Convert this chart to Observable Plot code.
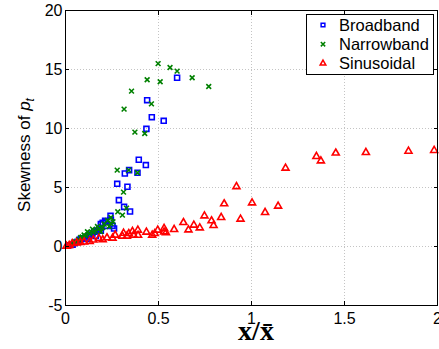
<!DOCTYPE html>
<html><head><meta charset="utf-8">
<script src="https://cdn.jsdelivr.net/npm/d3@7"></script>
<script src="https://cdn.jsdelivr.net/npm/@observablehq/plot@0.6"></script>
<style>body{margin:0;background:#fff} svg{display:block}</style>
</head><body><div id="chart"></div>
<script>
const seriesNames = ["Broadband", "Narrowband", "Sinusoidal"];
const seriesColors = ["#0000ff", "#008000", "#ff0000"];
const seriesSymbols = ["square", "times", "triangle"];

const broadbandX = [0.02,0.038,0.05,0.065,0.075,0.082,0.095,0.109,0.118,0.125,0.136,0.145,0.154,0.163,0.17,0.181,0.19,0.19,0.2,0.213,0.22,0.217,0.242,0.244,0.253,0.261,
  0.287,0.315,0.347,0.278,0.333,0.319,0.342,0.387,0.394,0.432,0.435,0.464,0.528,0.439,0.600];
const broadbandY = [0.1,0.15,0.3,0.4,0.55,0.63,0.7,0.76,0.63,0.9,0.97,1.1,1.25,0.9,1.35,1.47,1.33,1.9,2.0,2.18,1.75,2.09,2.6,2.26,1.75,1.53,
  3.93,3.36,2.97,5.31,5.06,6.19,6.47,6.25,7.35,6.9,9.97,10.96,10.65,12.4,14.3];

const narrowbandX = [0.03,0.045,0.055,0.07,0.082,0.09,0.1,0.11,0.118,0.13,0.145,0.15,0.16,0.172,0.18,0.19,0.2,0.208,0.226,0.235,0.244,0.244,0.255,
  0.281,0.306,0.328,0.312,0.278,0.340,0.387,0.373,0.426,0.315,0.462,0.355,0.439,0.509,0.498,0.562,0.600,0.681,0.770];
const narrowbandY = [0.2,0.3,0.4,0.6,0.76,0.8,0.97,0.9,1.25,1.1,1.47,1.2,1.3,1.69,1.5,1.25,1.6,1.9,2.2,1.7,1.95,2.46,2.1,
  2.94,2.66,3.25,4.61,6.47,6.47,6.25,9.69,9.58,11.64,12.09,13.17,14.13,13.96,15.5,15.17,14.86,14.3,13.56];

const sinusoidalX = [0.005,0.02,0.036,0.06,0.08,0.1,0.13,0.15,0.18,0.2,0.223,0.253,0.267,0.306,0.312,0.33,0.34,0.36,0.366,0.389,0.39,0.435,0.466,0.480,0.496,0.53,0.53,0.54,0.584,0.634,0.661,0.690,0.722,0.747,0.785,0.796,0.837,0.853,0.919,0.941,1.003,1.073,1.143,1.183,1.349,1.373,1.453,1.615,1.844,1.982];
const sinusoidalY = [0.03,0.1,0.25,0.3,0.35,0.38,0.43,0.55,0.68,0.57,0.74,0.71,0.97,0.88,1.13,0.88,1.1,1.27,0.97,1.39,0.95,1.22,0.97,1.10,1.39,1.53,1.24,1.18,1.44,2.03,1.41,1.81,1.58,2.6,2.18,1.78,2.46,3.62,5.08,2.32,3.7,2.88,3.42,6.64,7.63,7.26,7.92,7.97,8.08,8.14];

const xTicks = [0, 0.5, 1, 1.5, 2];
const yTicks = [-5, 0, 5, 10, 15, 20];
const xLabel = "x/x\u0304";
const yLabelMain = "Skewness of ";
const yLabelVar = "p";
const yLabelSub = "t";

const seriesData = [[broadbandX, broadbandY], [narrowbandX, narrowbandY], [sinusoidalX, sinusoidalY]];
const tables = seriesData.map(([xs, ys], i) => xs.map((x, j) => ({series: seriesNames[i], x, y: ys[j]})));

const fmt = d => String(d);
const sans = "'Liberation Sans', Arial, Helvetica, sans-serif";

const plot = Plot.plot({
  width: 439, height: 349,
  marginLeft: 65, marginRight: 2, marginTop: 10, marginBottom: 44,
  style: {fontFamily: sans, fontSize: "16px", color: "#000", background: "#fff", overflow: "visible"},
  x: {domain: [0, 2], label: null},
  y: {domain: [-5, 20], label: null},
  marks: [
    Plot.gridX(xTicks, {stroke: "#c4c4c4", strokeOpacity: 1, strokeDasharray: "1,2"}),
    Plot.gridY(yTicks, {stroke: "#c4c4c4", strokeOpacity: 1, strokeDasharray: "1,2"}),
    Plot.dot(tables[0], {x: "x", y: "y", symbol: seriesSymbols[0], stroke: seriesColors[0], fill: "none", r: 2.8, strokeWidth: 1.6}),
    Plot.dot(tables[1], {x: "x", y: "y", symbol: seriesSymbols[1], stroke: seriesColors[1], fill: "none", r: 2.3, strokeWidth: 1.6}),
    Plot.dot(tables[2], {x: "x", y: "y", symbol: seriesSymbols[2], stroke: seriesColors[2], fill: "none", r: 2.6, strokeWidth: 1.6}),
    Plot.frame({stroke: "#000", strokeWidth: 1}),
    Plot.axisX(xTicks, {anchor: "bottom", tickSize: 4, dy: -4, tickPadding: 7, tickFormat: fmt, label: null, stroke: "#000"}),
    Plot.axisX(xTicks, {anchor: "top", tickSize: 4, dy: 4, tickFormat: () => "", label: null, stroke: "#000"}),
    Plot.axisY(yTicks, {anchor: "left", tickSize: 4, dx: 4, tickPadding: 3, tickFormat: fmt, label: null, stroke: "#000"}),
    Plot.axisY(yTicks, {anchor: "right", tickSize: 4, dx: -4, tickFormat: () => "", label: null, stroke: "#000"})
  ]
});

const svg = d3.select(plot);
// y label
const yl = svg.append("text")
  .attr("transform", "translate(29.5,155) rotate(-90)")
  .attr("text-anchor", "middle")
  .attr("fill", "#000")
  .style("font-family", sans).style("font-size", "17px");
yl.append("tspan").text(yLabelMain);
yl.append("tspan").style("font-style", "italic").text(yLabelVar);
yl.append("tspan").style("font-style", "italic").style("font-size", "12px").attr("dy", 4).text(yLabelSub);

// x label
svg.append("text")
  .attr("x", 256).attr("y", 340)
  .attr("text-anchor", "middle")
  .attr("fill", "#000")
  .style("font-family", "'Liberation Serif', 'DejaVu Serif', serif")
  .style("font-weight", "bold")
  .style("font-size", "28px")
  .text(xLabel);

// legend
const lg = svg.append("g").attr("text-anchor", "start");
lg.append("rect").attr("x", 306.5).attr("y", 14.5).attr("width", 127).attr("height", 60)
  .attr("fill", "#fff").attr("stroke", "#000").attr("stroke-width", 1);
const d3Sym = {square: d3.symbolSquare, times: d3.symbolTimes, triangle: d3.symbolTriangle};
seriesNames.forEach((name, i) => {
  const cy = 25 + i * 19.2;
  lg.append("path")
    .attr("transform", `translate(323,${cy})`)
    .attr("d", d3.symbol(d3Sym[seriesSymbols[i]], 14)())
    .attr("fill", "none").attr("stroke", seriesColors[i]).attr("stroke-width", 1.5);
  lg.append("text").attr("x", 339).attr("y", cy).attr("dy", "0.35em")
    .attr("text-anchor", "start")
    .attr("fill", "#000")
    .style("font-family", sans).style("font-size", "16.5px")
    .text(name);
});

document.getElementById("chart").appendChild(plot);
</script>
</body></html>
